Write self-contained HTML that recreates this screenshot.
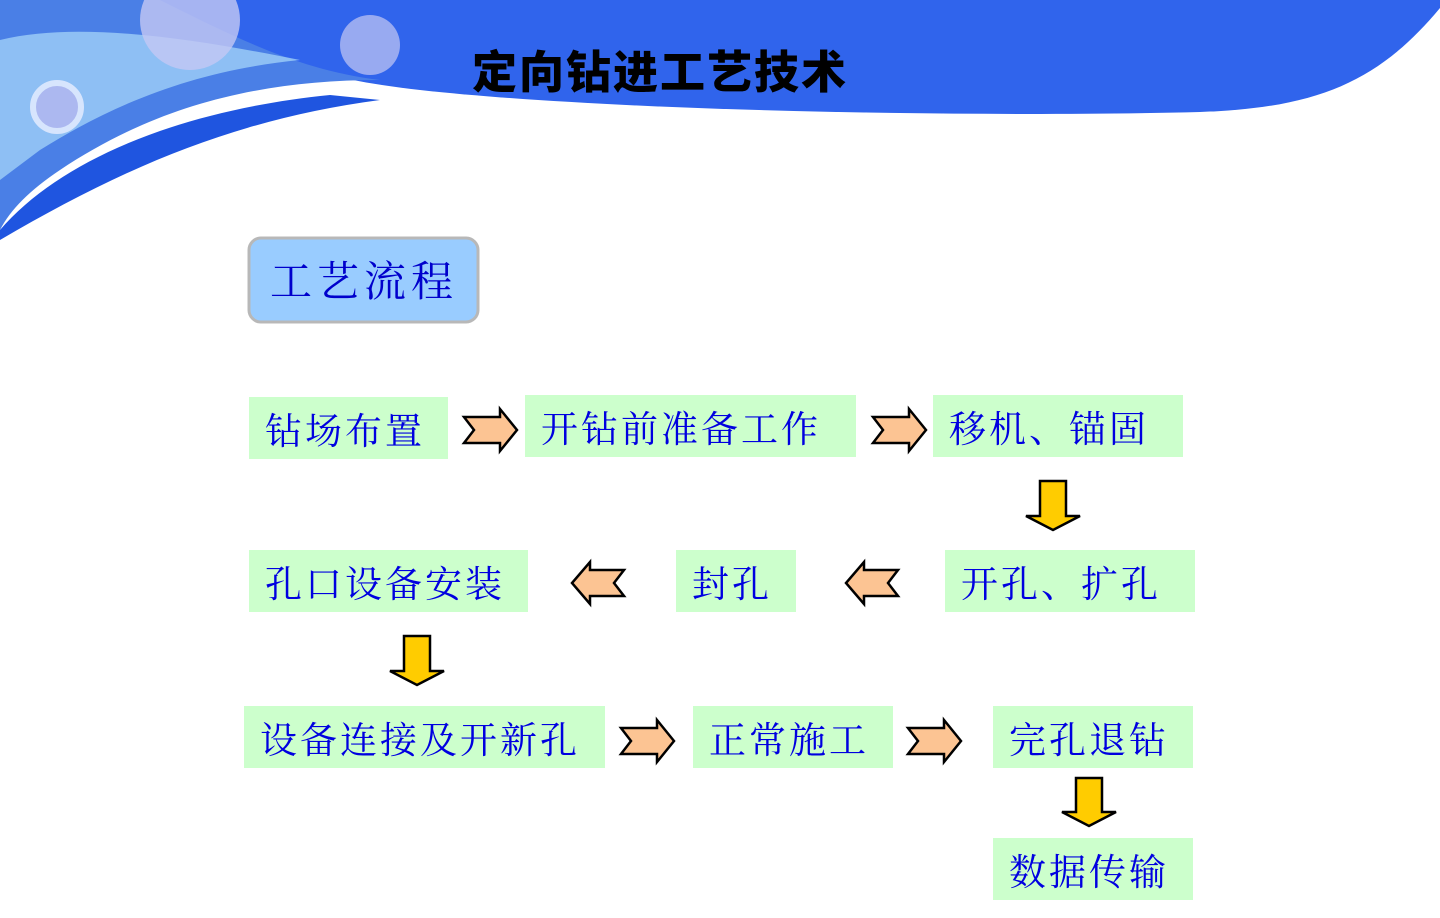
<!DOCTYPE html>
<html><head><meta charset="utf-8"><style>
body{margin:0;width:1440px;height:918px;overflow:hidden;background:#fff;position:relative;font-family:"Liberation Serif","Noto Serif CJK SC",serif}
.b{position:absolute;background:#ccffcc;color:#0000e0;font-size:37px;line-height:62px;height:62px;box-sizing:border-box;padding-left:16px;white-space:nowrap;font-family:"Noto Serif CJK SC",serif;letter-spacing:3px}
svg{position:absolute;left:0;top:0}
</style></head><body>
<svg width="1440" height="918">
<path d="M140 0 H1440 L1440 8 C1380 80 1320 108 1200 112 C950 118 600 110 420 90 C330 80 250 60 140 0Z" fill="#3064ec"/>
<path d="M0 0 H160 C240 40 300 70 380 80 C250 80 150 110 60 170 C30 190 10 210 0 230Z" fill="#4a7fe6"/>
<path d="M0 40 C80 20 200 40 300 60 C200 70 120 100 40 150 L0 180Z" fill="#9fd0f8" opacity="0.8"/>
<path d="M0 230 C60 160 180 110 330 95 L380 100 C230 120 120 170 0 240Z" fill="#1f55e0"/>
<circle cx="190" cy="20" r="50" fill="#c4c8f4" opacity="0.8"/>
<circle cx="370" cy="45" r="30" fill="#c4c8f4" opacity="0.7"/>
<circle cx="57" cy="107" r="24" fill="#b0b8f0" stroke="#e0eaff" stroke-width="6" opacity="0.9"/>
<text x="472" y="88" font-family="Noto Sans CJK SC,sans-serif" font-weight="900" font-size="45" fill="#000" letter-spacing="2">定向钻进工艺技术</text>
<rect x="249" y="238" width="229" height="84" rx="12" fill="#99ccff" stroke="#b8b8b8" stroke-width="3"/>
<text x="270" y="296" font-family="Noto Serif CJK SC,serif" font-size="42" fill="#0000cc" letter-spacing="5">工艺流程</text>
<g fill="#fcc493" stroke="#000" stroke-width="2.5" stroke-linejoin="miter">
<path d="M464 417 H500 V409 L517 430 L500 451 V443 H464 L474 430Z"/>
<path d="M873 417 H909 V409 L926 430 L909 451 V443 H873 L883 430Z"/>
<path d="M621 728 H657 V720 L674 741 L657 762 V754 H621 L631 741Z"/>
<path d="M908 728 H944 V720 L961 741 L944 762 V754 H908 L918 741Z"/>
<path d="M624 570 H590 V562 L572 583 L590 604 V596 H624 L614 583Z"/>
<path d="M898 570 H864 V562 L846 583 L864 604 V596 H898 L888 583Z"/>
</g>
<g fill="#ffcc00" stroke="#000" stroke-width="2.5">
<path d="M1040 481 H1066 V516 H1080 L1053 530 L1026 516 H1040Z"/>
<path d="M404 636 H430 V671 H444 L417 685 L390 671 H404Z"/>
<path d="M1076 778 H1102 V812 H1116 L1089 826 L1062 812 H1076Z"/>
</g>
</svg>
<div class="b" style="left:249px;top:397px;width:199px">钻场布置</div>
<div class="b" style="left:525px;top:395px;width:331px">开钻前准备工作</div>
<div class="b" style="left:933px;top:395px;width:250px">移机、锚固</div>
<div class="b" style="left:945px;top:550px;width:250px">开孔、扩孔</div>
<div class="b" style="left:676px;top:550px;width:120px">封孔</div>
<div class="b" style="left:249px;top:550px;width:279px">孔口设备安装</div>
<div class="b" style="left:244px;top:706px;width:361px">设备连接及开新孔</div>
<div class="b" style="left:693px;top:706px;width:200px">正常施工</div>
<div class="b" style="left:993px;top:706px;width:200px">完孔退钻</div>
<div class="b" style="left:993px;top:838px;width:200px">数据传输</div>
</body></html>
